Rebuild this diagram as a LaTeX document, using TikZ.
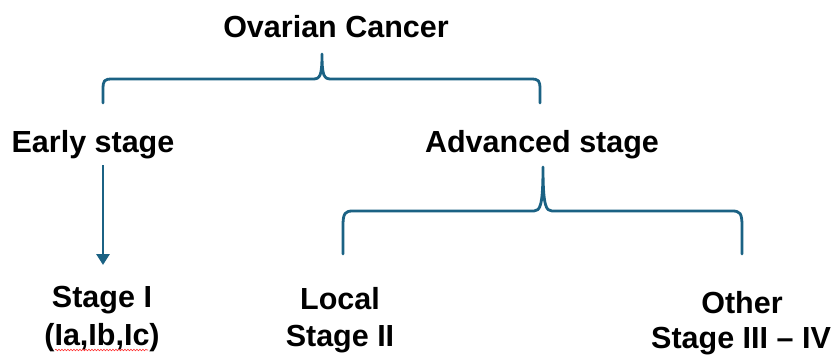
\documentclass[tikz,border=0pt]{standalone}
\usepackage{fontspec}
\setmainfont{Liberation Sans}
\usetikzlibrary{arrows.meta,decorations.pathmorphing}
\definecolor{bracecol}{RGB}{27,98,132}
\tikzset{
  lbl/.style={font=\fontsize{30.5}{36}\selectfont\bfseries, anchor=base, inner sep=0pt},
  brace/.style={draw=bracecol, line width=2.8pt, line cap=round, line join=round},
  arr/.style={draw=bracecol, line width=2.8pt, -{Triangle[width=13pt,length=11pt]}}
}
\begin{document}
\begin{tikzpicture}[x=1pt,y=-1pt]
\useasboundingbox[fill=white] (0,0) rectangle (834,354);
% labels
\node[lbl] (ovarian) at (336,37) {Ovarian Cancer};
\node[lbl] (early) at (93,152) {Early stage};
\node[lbl] (advanced) at (542,152) {Advanced stage};
\node[lbl] (stage1) at (102,307) {Stage I};
\node[lbl] (stage1b) at (102,345) {(Ia,Ib,Ic)};
\node[lbl] (local) at (340,309) {Local};
\node[lbl] (stage2) at (340,346) {Stage II};
\node[lbl] (other) at (742,313) {Other};
\node[lbl] (stage34) at (741,348) {Stage III -- IV};
% coordinates of brace ends
\coordinate (b1l) at (103,103);
\coordinate (b1t) at (322,54);
\coordinate (b1r) at (540,103);
\coordinate (b2l) at (343,254);
\coordinate (b2t) at (543,167);
\coordinate (b2r) at (742,254);
\coordinate (a1s) at (103,165);
\coordinate (a1e) at (103,265);
% top brace
\draw[brace] (b1l) -- (103,90) .. controls (103,80) and (104,79) .. (113,79)
  -- (313,79) .. controls (320,79) and (322,76) .. (b1t)
  .. controls (322,76) and (324,79) .. (331,79)
  -- (530,79) .. controls (539,79) and (540,80) .. (540,90) -- (b1r);
% second brace
\draw[brace] (b2l) -- (343,226) .. controls (343,213) and (345,211) .. (353,211)
  -- (534,211) .. controls (540,211) and (543,206) .. (b2t)
  .. controls (543,206) and (546,211) .. (552,211)
  -- (732,211) .. controls (740,211) and (742,213) .. (742,226) -- (b2r);
% arrow
\draw[arr] (a1s) -- (a1e);
% spellcheck squiggle
\draw[red!80, line width=0.6pt, decorate, decoration={snake, amplitude=0.8pt, segment length=3pt}]
  (55,350) -- (148,350);
\end{tikzpicture}
\end{document}
